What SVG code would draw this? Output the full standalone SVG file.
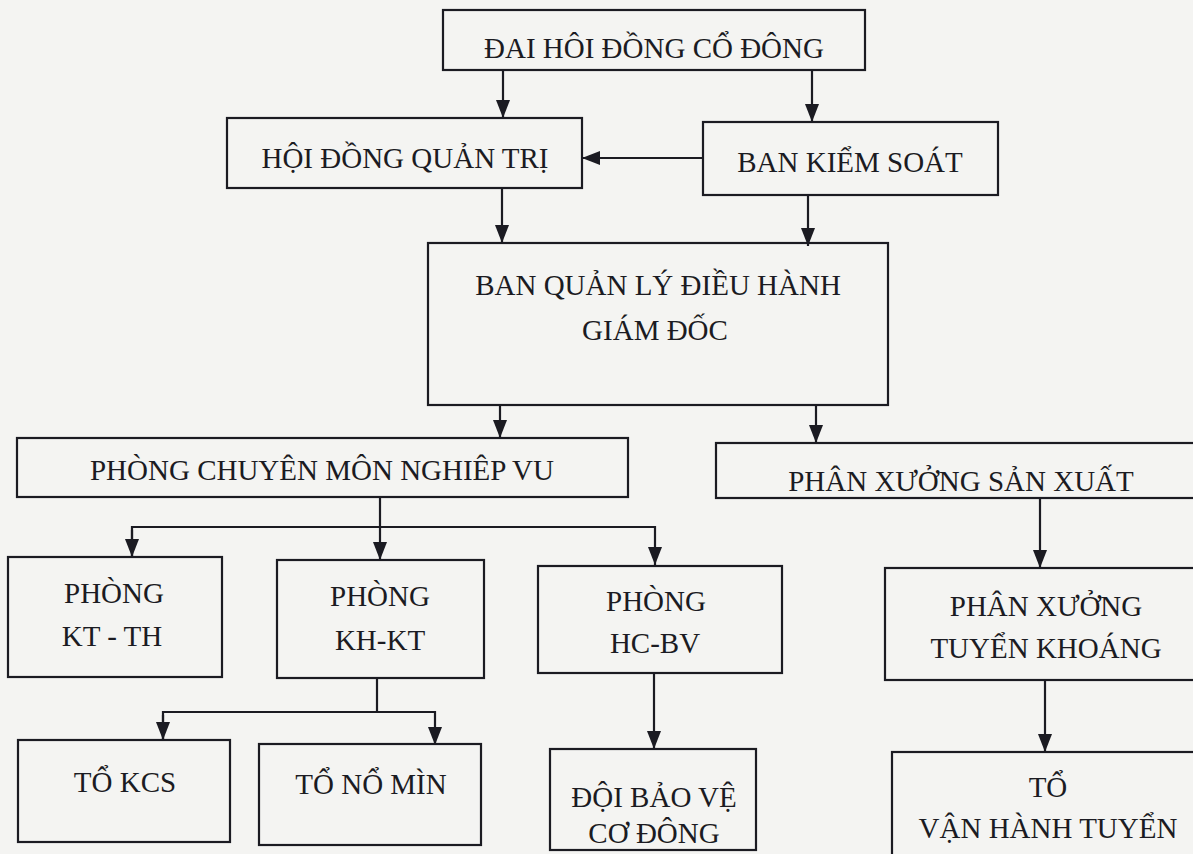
<svg xmlns="http://www.w3.org/2000/svg" width="1193" height="854" viewBox="0 0 1193 854">
<defs>
<style>
.box{fill:none;stroke:#1b1b22;stroke-width:2.2}
.t{font-family:"Liberation Serif","Times New Roman",serif;font-size:29px;fill:#1b1b22;text-anchor:middle}
.c{fill:none;stroke:#1b1b22;stroke-width:2.2}
</style>
<marker id="ah" viewBox="0 0 18 14" refX="18" refY="7" markerWidth="18" markerHeight="14" markerUnits="userSpaceOnUse" orient="auto">
<path d="M0,0 L18,7 L0,14 z" fill="#1b1b22"/>
</marker>
</defs>
<rect x="0" y="0" width="1193" height="854" fill="#f4f4f2"/>

<g id="connectors">
<line class="c" x1="503" y1="70" x2="503" y2="118" marker-end="url(#ah)"/>
<line class="c" x1="812" y1="70" x2="812" y2="122" marker-end="url(#ah)"/>
<line class="c" x1="703" y1="158" x2="582" y2="158" marker-end="url(#ah)"/>
<line class="c" x1="502" y1="188" x2="502" y2="243" marker-end="url(#ah)"/>
<line class="c" x1="808" y1="195" x2="808" y2="246" marker-end="url(#ah)"/>
<line class="c" x1="500" y1="405" x2="500" y2="438" marker-end="url(#ah)"/>
<line class="c" x1="816" y1="406" x2="816" y2="443" marker-end="url(#ah)"/>
<line class="c" x1="380" y1="497" x2="380" y2="527"/>
<polyline class="c" points="132,557 132,527 655,527 655,565" marker-end="url(#ah)"/>
<line class="c" x1="132" y1="530" x2="132" y2="557" marker-end="url(#ah)"/>
<line class="c" x1="380" y1="527" x2="380" y2="560" marker-end="url(#ah)"/>
<line class="c" x1="377" y1="678" x2="377" y2="712"/>
<polyline class="c" points="163,740 163,712 435,712 435,745" marker-end="url(#ah)"/>
<line class="c" x1="163" y1="715" x2="163" y2="740" marker-end="url(#ah)"/>
<line class="c" x1="654" y1="673" x2="654" y2="749" marker-end="url(#ah)"/>
<line class="c" x1="1040" y1="498" x2="1040" y2="568" marker-end="url(#ah)"/>
<line class="c" x1="1045" y1="680" x2="1045" y2="752" marker-end="url(#ah)"/>
</g>

<g id="dhdcd"><rect class="box" x="443" y="10" width="422" height="60"/><text class="t" x="654" y="58">ĐAI HÔI ĐỒNG CỔ ĐÔNG</text></g>
<g id="hdqt"><rect class="box" x="227" y="118" width="355" height="70"/><text class="t" x="405" y="168">HỘI ĐỒNG QUẢN TRỊ</text></g>
<g id="bks"><rect class="box" x="703" y="122" width="295" height="73"/><text class="t" x="850" y="172">BAN KIỂM SOÁT</text></g>
<g id="bql"><rect class="box" x="428" y="243" width="460" height="162"/><text class="t" x="658" y="295">BAN QUẢN LÝ ĐIỀU HÀNH</text><text class="t" x="655" y="340">GIÁM ĐỐC</text></g>
<g id="pcmnv"><rect class="box" x="17" y="438" width="611" height="59"/><text class="t" x="322" y="480">PHÒNG CHUYÊN MÔN NGHIÊP VU</text></g>
<g id="pxsx"><rect class="box" x="716" y="443" width="490" height="55"/><text class="t" x="961" y="491">PHÂN XƯỞNG SẢN XUẤT</text></g>
<g id="ktth"><rect class="box" x="8" y="557" width="214" height="120"/><text class="t" x="114" y="603">PHÒNG</text><text class="t" x="112" y="646">KT - TH</text></g>
<g id="khkt"><rect class="box" x="277" y="560" width="207" height="118"/><text class="t" x="380" y="606">PHÒNG</text><text class="t" x="380" y="650">KH-KT</text></g>
<g id="hcbv"><rect class="box" x="538" y="566" width="244" height="107"/><text class="t" x="656" y="611">PHÒNG</text><text class="t" x="655" y="653">HC-BV</text></g>
<g id="pxtk"><rect class="box" x="885" y="568" width="320" height="112"/><text class="t" x="1046" y="616">PHÂN XƯỞNG</text><text class="t" x="1046" y="658">TUYỂN KHOÁNG</text></g>
<g id="tkcs"><rect class="box" x="18" y="740" width="212" height="102"/><text class="t" x="125" y="792">TỔ KCS</text></g>
<g id="tnm"><rect class="box" x="259" y="744" width="222" height="101"/><text class="t" x="371" y="794">TỔ NỔ MÌN</text></g>
<g id="dbv"><rect class="box" x="550" y="749" width="206" height="101"/><text class="t" x="654" y="807">ĐỘI BẢO VỆ</text><text class="t" x="654" y="843">CƠ ĐÔNG</text></g>
<g id="tvht"><rect class="box" x="892" y="752" width="320" height="110"/><text class="t" x="1048" y="797">TỔ</text><text class="t" x="1048" y="838">VẬN HÀNH TUYỂN</text></g>
</svg>
